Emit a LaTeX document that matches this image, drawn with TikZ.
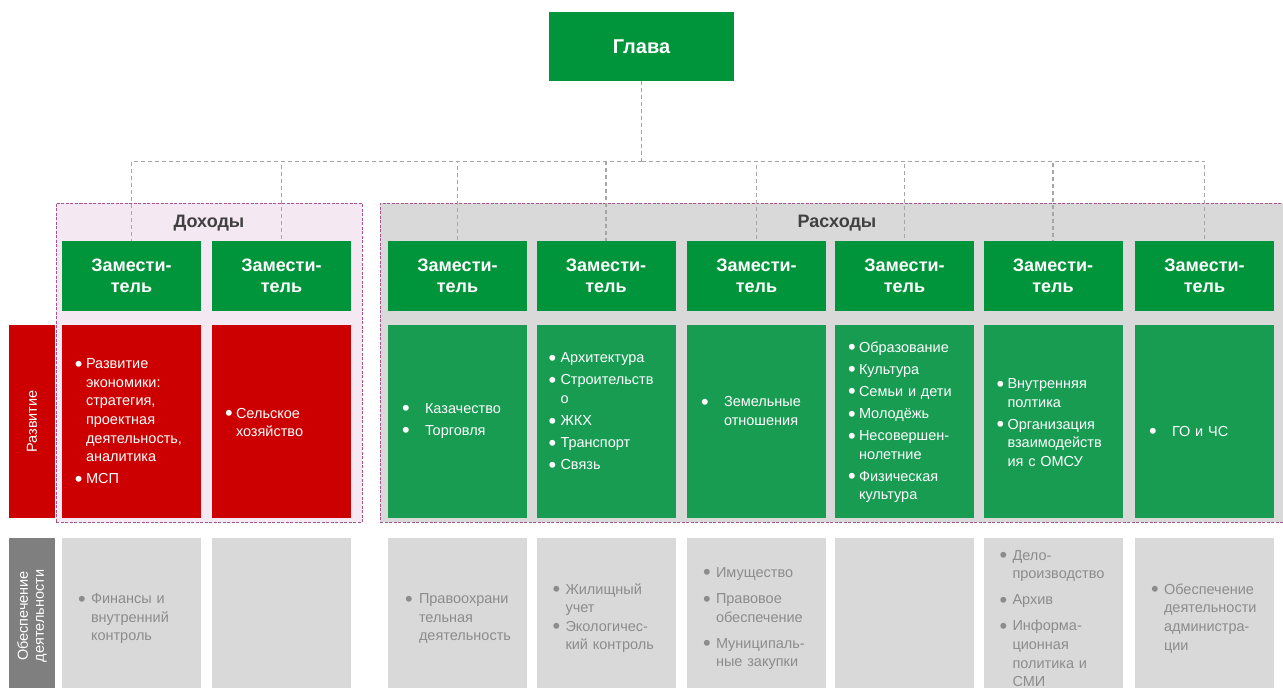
\documentclass[tikz,border=0pt]{standalone}
\usepackage{fontspec}
\setmainfont{Liberation Sans}
\usepackage{graphicx}

\definecolor{headgreen}{HTML}{00953A}
\definecolor{devgreen}{HTML}{179C52}
\definecolor{devred}{HTML}{CC0000}
\definecolor{supgray}{HTML}{D9D9D9}
\definecolor{labelgray}{HTML}{7F7F7F}
\definecolor{textgray}{HTML}{8C8C8C}
\definecolor{incomepink}{HTML}{F4E8F2}
\definecolor{framepurple}{HTML}{A5548F}
\definecolor{linkgray}{HTML}{A6A6A6}
\definecolor{titlegray}{HTML}{404040}

%% bullet list item with hanging indent
\newcommand\bulx{13pt}
\newcommand\txtx{24pt}
\newcommand\itm[1]{\par\begingroup\let\\=\newline
  \hangindent=\txtx\hangafter=1\noindent
  \hspace*{\bulx}\makebox[\dimexpr\txtx-\bulx\relax][l]{\raisebox{-2.6pt}{\scalebox{1.5}{\textbullet}}}#1\par
  \endgroup}
\newcommand\tailgap[1]{\endgraf\vspace{#1}}

\begin{document}
\begin{tikzpicture}
[bossdecorate/.style={fill=headgreen,text=white,font=\bfseries\fontsize{20}{24}\selectfont,
   minimum width=185pt,minimum height=69pt,inner sep=0pt},%
  deputydecorate/.style={fill=headgreen,text=white,font=\bfseries\fontsize{18}{21}\selectfont,
   align=center,minimum width=139pt,minimum height=70pt,inner sep=0pt},%
  devdecorate/.style={text=white,text width=139pt,inner xsep=0pt,inner ysep=0pt,align=left,
   minimum height=193pt,font=\fontsize{14.5}{18.6}\selectfont\setlength\parskip{3.5pt},
   execute at begin node={\vspace{-\parskip}},
   execute at end node={\tailgap{6.5pt}}},%
  redbox/.style={devdecorate,fill=devred},%
  greenbox/.style={devdecorate,fill=devgreen},%
  tabbox/.style={greenbox,execute at begin node={\def\bulx{14pt}\def\txtx{37pt}\vspace{-\parskip}}},%
  supdecorate/.style={fill=supgray,text=textgray,text width=139pt,inner xsep=0pt,inner ysep=0pt,
   align=left,minimum height=156pt,font=\fontsize{14.5}{18.6}\selectfont\setlength\parskip{7.5pt},
   execute at begin node={\def\bulx{16pt}\def\txtx{29pt}\vspace{-\parskip}},
   execute at end node={\tailgap{3.5pt}}},%
  rowdecorate/.style={rotate=90,text=white,align=center,inner sep=0pt,minimum height=46pt,
   font=\fontsize{14.5}{16}\selectfont},%
  groupdecorate/.style={draw=framepurple,dash pattern=on 3pt off 1.5pt,line width=1pt,
   inner sep=0pt,minimum height=319pt},%
  titledecorate/.style={text=titlegray,font=\bfseries\fontsize{18}{21}\selectfont},%
  linkdecorate/.style={draw=linkgray,dash pattern=on 4pt off 3pt,line width=1.2pt},%
  x=1pt,y=-1pt]
\useasboundingbox (0,0) rectangle (1283,688);

%% groups
\node[groupdecorate,fill=incomepink,minimum width=306pt] (dohody) at (209,362.5) {};
\node[groupdecorate,fill=supgray,minimum width=912pt] (rashody) at (836,362.5) {};
\node[titledecorate] (dohodytitle) at (209,223) {Доходы};
\node[titledecorate] (rashodytitle) at (837,223) {Расходы};

%% head and deputies
\node[bossdecorate] (glava) at (641.5,46.5) {Глава};
\foreach \nodename/\x in {1/131.5, 2/281.5, 3/457.5, 4/606,
  5/756.5, 6/904.5, 7/1053, 8/1204.5}
{
  \node[deputydecorate] (dep\nodename) at (\x,276) {Замести-\\тель};
}

%% links
\coordinate (bus) at ([yshift=-80pt]glava.south);
\draw[linkdecorate] (glava.south) -- (bus);
\foreach \endnode in {1,...,8}
{
  \draw[linkdecorate] (bus) -| (dep\endnode.north);
}

%% row labels
\node[rowdecorate,fill=devred,minimum width=193pt] (razvitie) at (32,421.5) {Развитие};
\node[rowdecorate,fill=labelgray,minimum width=156pt] (obespechenie) at (32,616)
  {Обеспечение\\деятельности};

%% development row
\node[redbox] (dev1) at (131.5,421.5)
  {\itm{Развитие\\экономики:\\стратегия,\\проектная\\деятельность,\\аналитика}\itm{МСП}};
\node[redbox] (dev2) at (281.5,421.5) {\itm{Сельское\\хозяйство}};
\node[tabbox] (dev3) at (457.5,421.5) {\itm{Казачество}\itm{Торговля}};
\node[greenbox] (dev4) at (606,421.5)
  {\def\bulx{12pt}\itm{Архитектура}\itm{Строительств\\о}\itm{ЖКХ}\itm{Транспорт}\itm{Связь}\vspace{20pt}};
\node[tabbox] (dev5) at (756.5,421.5) {\itm{Земельные\\отношения}\vspace{20pt}};
\node[greenbox] (dev6) at (904.5,421.5)
  {\itm{Образование}\itm{Культура}\itm{Семьи и дети}\itm{Молодёжь}%
   \itm{Несовершен-\\нолетние}\itm{Физическая\\культура}};
\node[greenbox] (dev7) at (1053,421.5)
  {\itm{Внутренняя\\полтика}\itm{Организация\\взаимодейств\\ия с ОМСУ}};
\node[tabbox] (dev8) at (1204.5,421.5) {\vspace{23pt}\itm{ГО и ЧС}};

%% support row
\node[supdecorate] (sup1) at (131.5,616) {\itm{Финансы и\\внутренний\\контроль}};
\node[supdecorate] (sup2) at (281.5,616) {};
\node[supdecorate] (sup3) at (457.5,616)
  {\def\bulx{17pt}\def\txtx{31pt}\itm{Правоохрани\\тельная\\деятельность}};
\node[supdecorate] (sup4) at (606,616)
  {\itm{Жилищный\\учет}\vspace{-\parskip}\itm{Экологичес-\\кий контроль}};
\node[supdecorate] (sup5) at (756.5,616)
  {\itm{Имущество}\itm{Правовое\\обеспечение}\itm{Муниципаль-\\ные закупки}};
\node[supdecorate] (sup6) at (904.5,616) {};
\node[supdecorate] (sup7) at (1053,616)
  {\itm{Дело-\\производство}\itm{Архив}\itm{Информа-\\ционная\\политика и\\СМИ}};
\node[supdecorate] (sup8) at (1204.5,616)
  {\itm{Обеспечение\\деятельности\\администра-\\ции}};
\end{tikzpicture}
\end{document}
